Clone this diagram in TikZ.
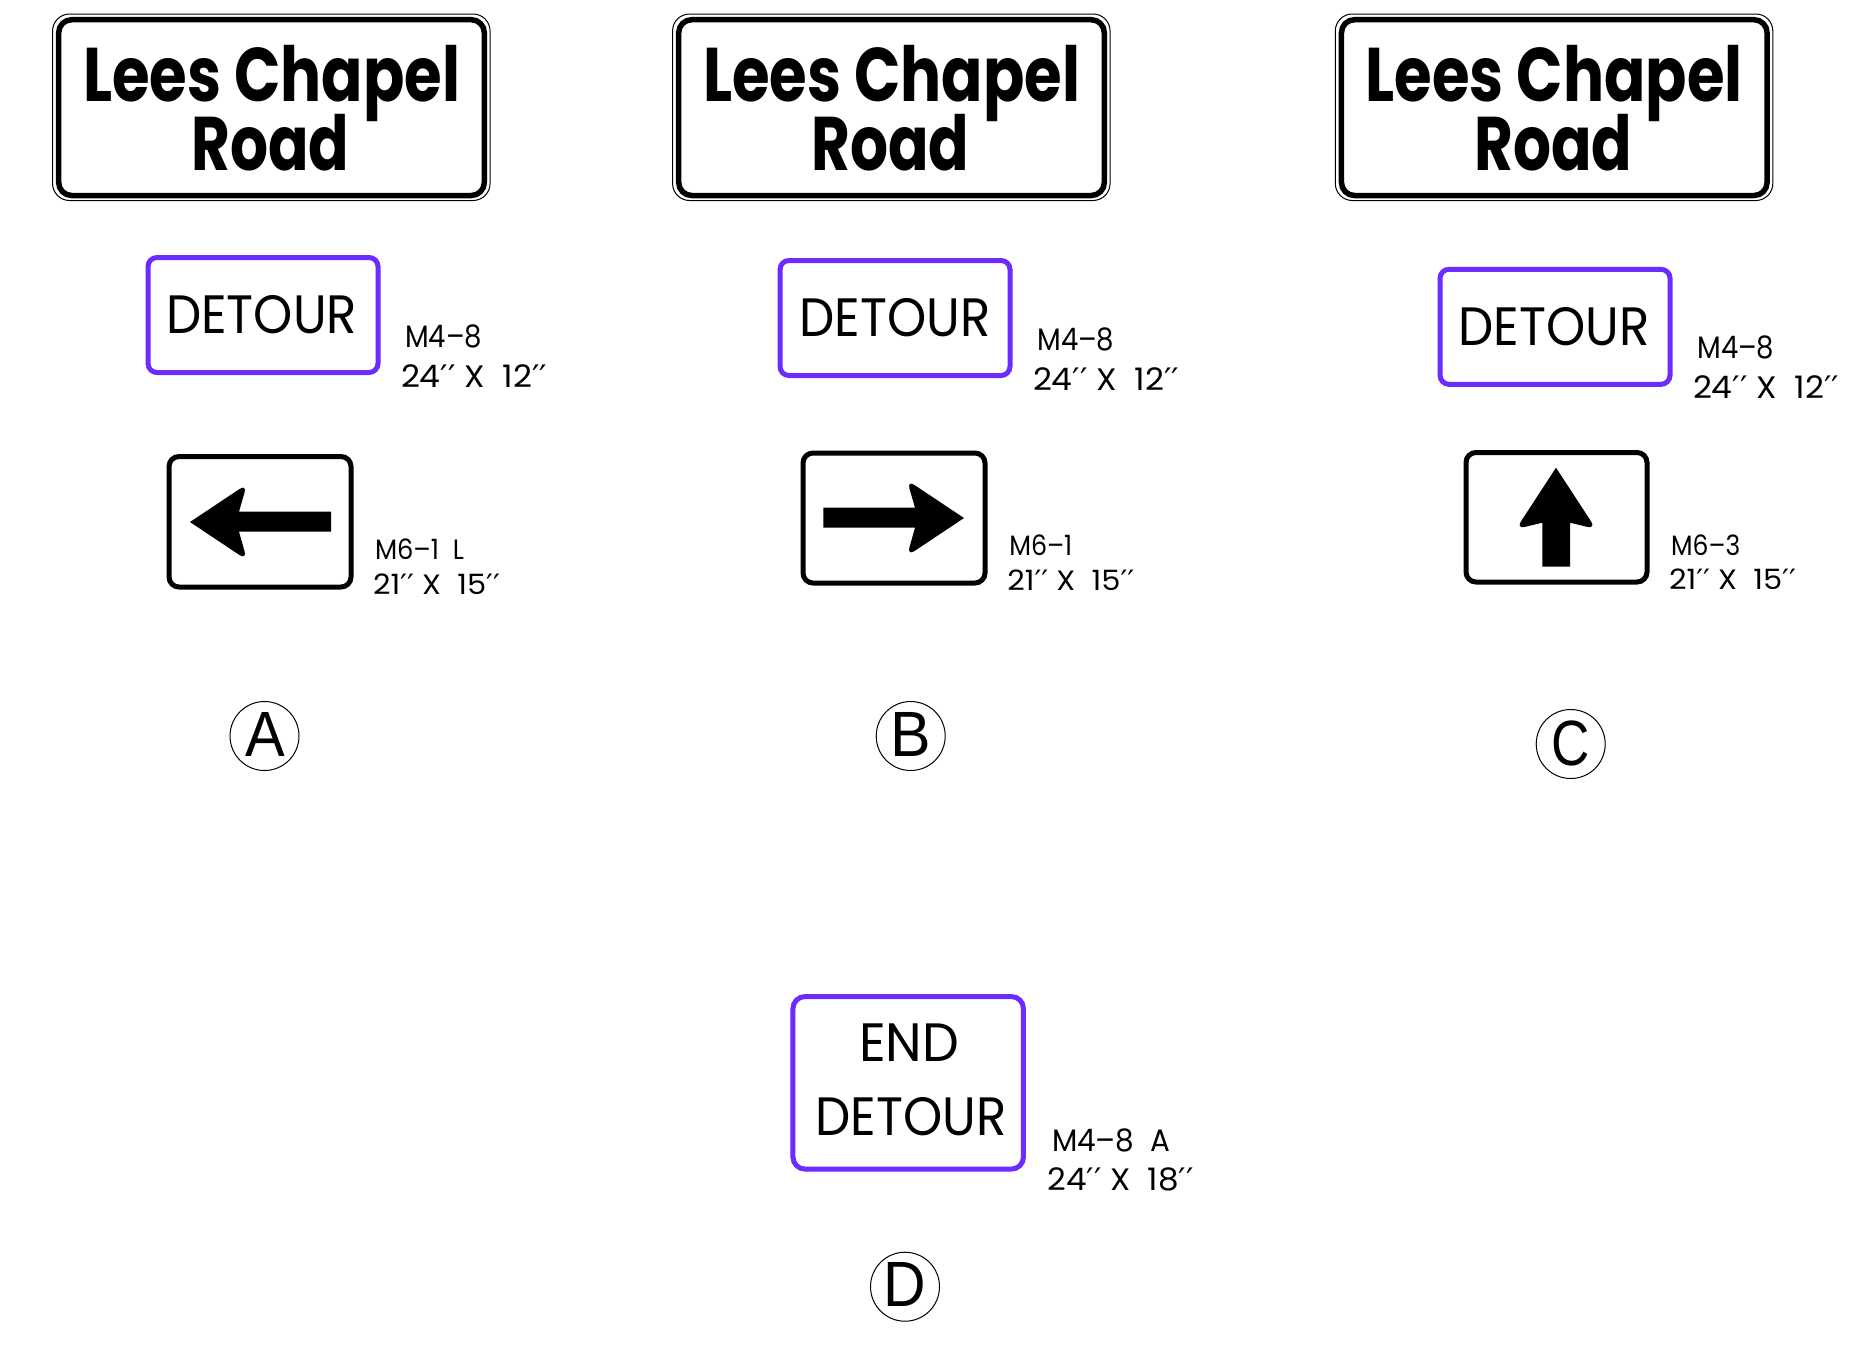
\documentclass[tikz,border=0pt]{standalone}
\usepackage{fontspec}
\usepackage{graphicx}
\newfontfamily\bigf{Poppins}
\newfontfamily\fut{Poppins}
\newfontfamily\letf{Liberation Sans}
\newfontfamily\prf{DejaVu Sans}
\definecolor{detourpurple}{HTML}{6C2BFF}
\newcommand{\sw}[2]{\resizebox*{#1pt}{\totalheight}{#2}}
\newcommand{\pp}{{\prf ′′}}
\newcommand{\lt}[2]{\scalebox{#1}[1]{#2}}
\tikzset{
  txt/.style={anchor=base west,inner sep=0pt,outer sep=0pt,text=black},
  thinbox/.style={draw=black,line width=1pt,rounded corners=17pt,inner sep=0pt,minimum width=437.5pt,minimum height=186.5pt},
  thickbox/.style={draw=black,line width=5.5pt,rounded corners=13pt,inner sep=0pt,minimum width=425.6pt,minimum height=175.8pt},
  purplebox/.style={draw=detourpurple,line width=5pt,rounded corners=9pt,inner sep=0pt},
  blackbox/.style={draw=black,line width=5pt,rounded corners=10pt,inner sep=0pt},
  badge/.style={draw=black,line width=1pt,circle,inner sep=0pt,minimum size=69pt},
  letterlab/.style={anchor=base,inner sep=0pt,outer sep=0pt,font=\letf\fontsize{64}{64}\selectfont},
  arrowfill/.style={fill=black,draw=none}
}
\newcommand{\bigsign}[2]{%
  \node[thinbox] (#1o) at (#2+271.3,107.25) {};
  \node[thickbox] (#1i) at (#2+271.5,107.6) {};
  \node[txt] (#1t1) at (#2+83,101) {\fontsize{76}{76}\bigf\bfseries\sw{377}{Lees Chapel}};
  \node[txt] (#1t2) at (#2+191.5,170) {\fontsize{76}{76}\bigf\bfseries\sw{158}{Road}};
}
\newcommand{\detourtxt}[3]{\node[txt] (#1) at (#2,#3) {\fontsize{54}{54}\fut\sw{191}{DETOUR}};}
\begin{document}
\begin{tikzpicture}[x=1pt,y=-1pt]
\useasboundingbox (0,0) rectangle (1862,1353);
\bigsign{a}{0}
\bigsign{b}{620}
\bigsign{c}{1282.75}
% purple boxes
\node[purplebox,minimum width=230pt,minimum height=115pt] (pa) at (263,315) {};
\node[purplebox,minimum width=230pt,minimum height=115pt] (pb) at (895,318) {};
\node[purplebox,minimum width=230pt,minimum height=115pt] (pc) at (1555,326.8) {};
\node[purplebox,rounded corners=12pt,minimum width=230.5pt,minimum height=172.5pt] (pd) at (908.2,1082.8) {};
\detourtxt{da}{166}{333}
\detourtxt{db}{799.5}{336.7}
\detourtxt{dc}{1458.5}{345}
\node[txt] (dd0) at (859,1061) {\fontsize{54}{54}\fut\sw{100}{END}};
\detourtxt{dd}{815.5}{1135}
% labels
\node[txt] (la1) at (405,347) {\fontsize{31}{31}\fut\sw{77}{M4–8}};
\node[txt] (la2) at (401,387) {\fontsize{31}{31}\fut\sw{146}{24\pp{} X\ \ 12\pp}};
\node[txt] (lb1) at (1037.3,350) {\fontsize{31}{31}\fut\sw{77}{M4–8}};
\node[txt] (lb2) at (1033,390) {\fontsize{31}{31}\fut\sw{146}{24\pp{} X\ \ 12\pp}};
\node[txt] (lc1) at (1697.3,358.3) {\fontsize{31}{31}\fut\sw{77}{M4–8}};
\node[txt] (lc2) at (1693,398.3) {\fontsize{31}{31}\fut\sw{146}{24\pp{} X\ \ 12\pp}};
\node[txt] (ld1) at (1052,1151) {\fontsize{31}{31}\fut\sw{118}{M4–8\ \ A}};
\node[txt] (ld2) at (1047.7,1190) {\fontsize{31}{31}\fut\sw{146}{24\pp{} X\ \ 18\pp}};
\node[txt] (ma1) at (375,559.5) {\fontsize{28}{28}\fut\sw{89}{M6–1\ \ L}};
\node[txt] (ma2) at (373,594) {\fontsize{28}{28}\fut\sw{127}{21\pp{} X\ \ 15\pp}};
\node[txt] (mb1) at (1009.3,555.5) {\fontsize{28}{28}\fut\sw{63}{M6–1}};
\node[txt] (mb2) at (1007.3,590) {\fontsize{28}{28}\fut\sw{127}{21\pp{} X\ \ 15\pp}};
\node[txt] (mc1) at (1671.2,555) {\fontsize{28}{28}\fut\sw{69}{M6–3}};
\node[txt] (mc2) at (1669,589.3) {\fontsize{28}{28}\fut\sw{127}{21\pp{} X\ \ 15\pp}};
% arrow boxes
\node[blackbox,minimum width=182pt,minimum height=130.5pt] (ba) at (260,521.75) {};
\node[blackbox,minimum width=182pt,minimum height=130pt] (bb) at (894,518) {};
\node[blackbox,minimum width=181pt,minimum height=129.5pt] (bc) at (1556.5,517.25) {};
% arrows
\fill[arrowfill] (190,522) [rounded corners=9pt] -- (247,484) [sharp corners] -- (239,511.7) -- (331,511.7) -- (331,531.7) -- (239,531.7) [rounded corners=9pt] -- (247,560) [sharp corners] -- cycle;
\fill[arrowfill] (964,518) [rounded corners=9pt] -- (907,480) [sharp corners] -- (915,507.7) -- (823.3,507.7) -- (823.3,527.7) -- (915,527.7) [rounded corners=9pt] -- (907,556) [sharp corners] -- cycle;
\fill[arrowfill] (1556,467.7) [rounded corners=9pt] -- (1516,529) [sharp corners] -- (1542.3,522.7) -- (1542.3,566.7) -- (1570,566.7) -- (1570,522.7) [rounded corners=9pt] -- (1596,529) [sharp corners] -- cycle;
% badges
\node[badge] (ca) at (264.5,736) {};
\node[badge] (cb) at (910.7,736) {};
\node[badge] (cc) at (1570.7,744) {};
\node[badge] (cd) at (905,1286.7) {};
\node[letterlab] (ta) at (265,756) {\lt{0.93}{A}};
\node[letterlab] (tb) at (910.5,756) {\lt{0.95}{B}};
\node[letterlab] (tc) at (1571,765) {\lt{0.83}{C}};
\node[letterlab] (td) at (905,1306) {\lt{0.92}{D}};
\end{tikzpicture}
\end{document}
